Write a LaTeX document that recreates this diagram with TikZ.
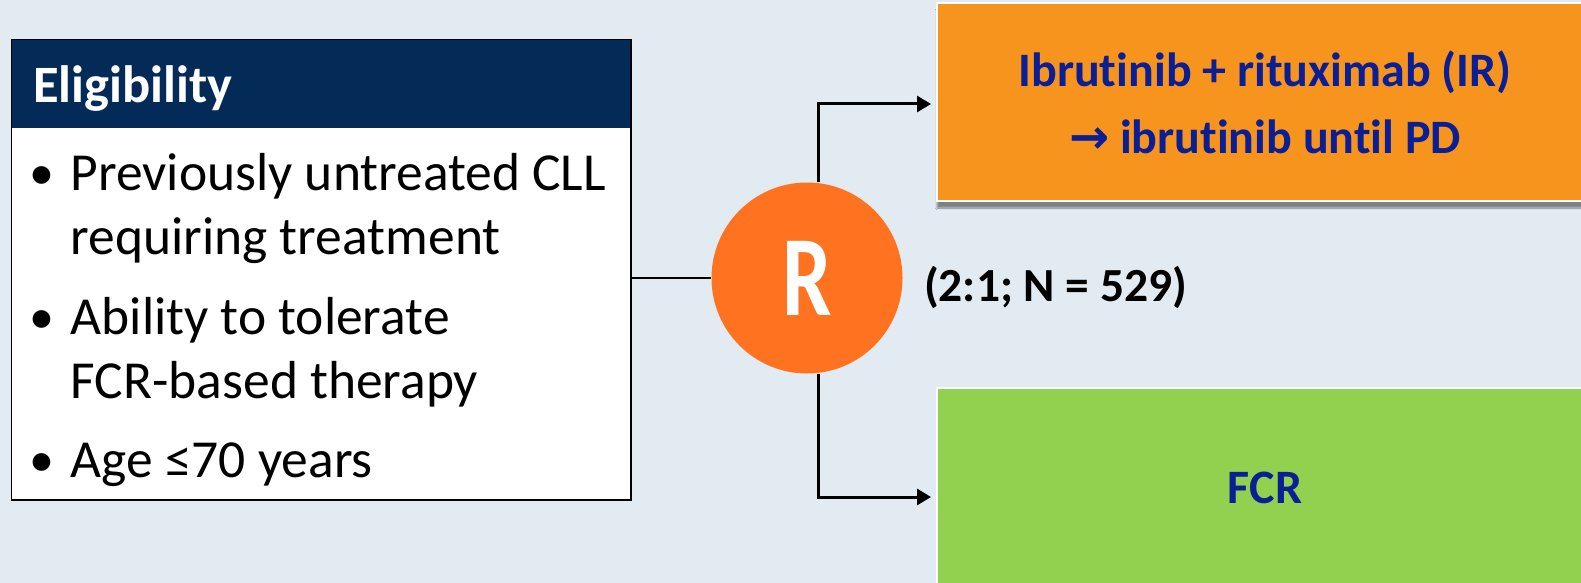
\documentclass[tikz,border=0pt]{standalone}
\usepackage{fontspec}
\setmainfont{Carlito}[Ligatures=NoCommon]
\newfontfamily\arrowfont{DejaVu Sans}
\usetikzlibrary{arrows.meta,shadows.blur}

\definecolor{bgblue}{RGB}{226,235,241}
\definecolor{navyhead}{RGB}{4,43,88}
\definecolor{armorange}{RGB}{247,148,30}
\definecolor{randorange}{RGB}{255,114,32}
\definecolor{armgreen}{RGB}{146,208,80}
\definecolor{armtext}{RGB}{10,30,150}

\tikzset{
  txt/.style={inner sep=0pt, outer sep=0pt},
  bodytxt/.style={txt, anchor=base west, align=left, font=\fontsize{53.5}{64}\selectfont},
  bullettxt/.style={txt, anchor=base, font=\fontsize{50}{64}\selectfont},
  armbox/.style={rectangle, draw=white, line width=2pt, minimum width=656pt,
    inner sep=0pt, text=armtext, font=\bfseries\fontsize{48}{67}\selectfont, align=center},
  conn/.style={draw=black, line width=3pt,
    -{Triangle[length=14pt,width=16pt]}},
  thinconn/.style={draw=black, line width=1.2pt}
}

\begin{document}
\begin{tikzpicture}[x=1pt,y=-1pt]
  % canvas
  \fill[bgblue] (0,0) rectangle (1581,583);
  \useasboundingbox (0,0) rectangle (1581,583);

  % eligibility panel
  \node[rectangle, fill=white, anchor=north west, minimum width=619pt,
        minimum height=460pt, inner sep=0pt] (eligbody) at (11.5,39.5) {};
  \node[rectangle, fill=navyhead, anchor=north west, minimum width=619pt,
        minimum height=88.5pt, inner sep=0pt] (eligbar) at (11.5,39.5) {};
  \draw[line width=1.6pt, black] (eligbody.north west) rectangle (eligbody.south east);
  \node[txt, anchor=base west, text=white, font=\bfseries\fontsize{52.5}{60}\selectfont]
        (eligtitle) at (33,102.7) {Eligibility};

  % bullet list (anchor base = baseline of the last line)
  \node[bullettxt] (b1) at (42,189) {•};
  \node[bodytxt] (item1) at (70.7,254) {Previously untreated CLL\\requiring treatment};
  \node[bullettxt] (b2) at (42,333) {•};
  \node[bodytxt] (item2) at (70.7,398) {Ability to tolerate\\FCR-based therapy};
  \node[bullettxt] (b3) at (42,476) {•};
  \node[bodytxt] (item3) at (70.7,477) {Age ≤70 years};

  % treatment arms
  \node[armbox, fill=armorange, minimum height=198pt,
        blur shadow={shadow xshift=0pt, shadow yshift=-7pt, shadow blur steps=6, shadow opacity=45}]
        (IR) at (1265,102) {Ibrutinib + rituximab (IR)\\{\arrowfont →} ibrutinib until PD};
  \node[armbox, fill=armgreen, minimum height=200pt] (FCR) at (1265,488) {FCR};

  % randomisation
  \node[circle, fill=randorange, minimum size=191pt, inner sep=0pt, text=white,
        font=\bfseries\fontsize{88}{100}\selectfont] (R) at (807,278) {\scalebox{1}[1.3]{R}};
  \node[txt, anchor=base west, font=\bfseries\fontsize{47.5}{50}\selectfont]
        (ratio) at (924,301) {(2:1; N = 529)};

  % connectors
  \draw[thinconn] (eligbody.east |- R.west) -- (R.west);
  \draw[conn] ([xshift=11pt]R.north) |- ([xshift=-5pt,yshift=-2pt]IR.west);
  \draw[conn] ([xshift=11pt]R.south) |- ([xshift=-5pt,yshift=-9pt]FCR.west);
\end{tikzpicture}
\end{document}
